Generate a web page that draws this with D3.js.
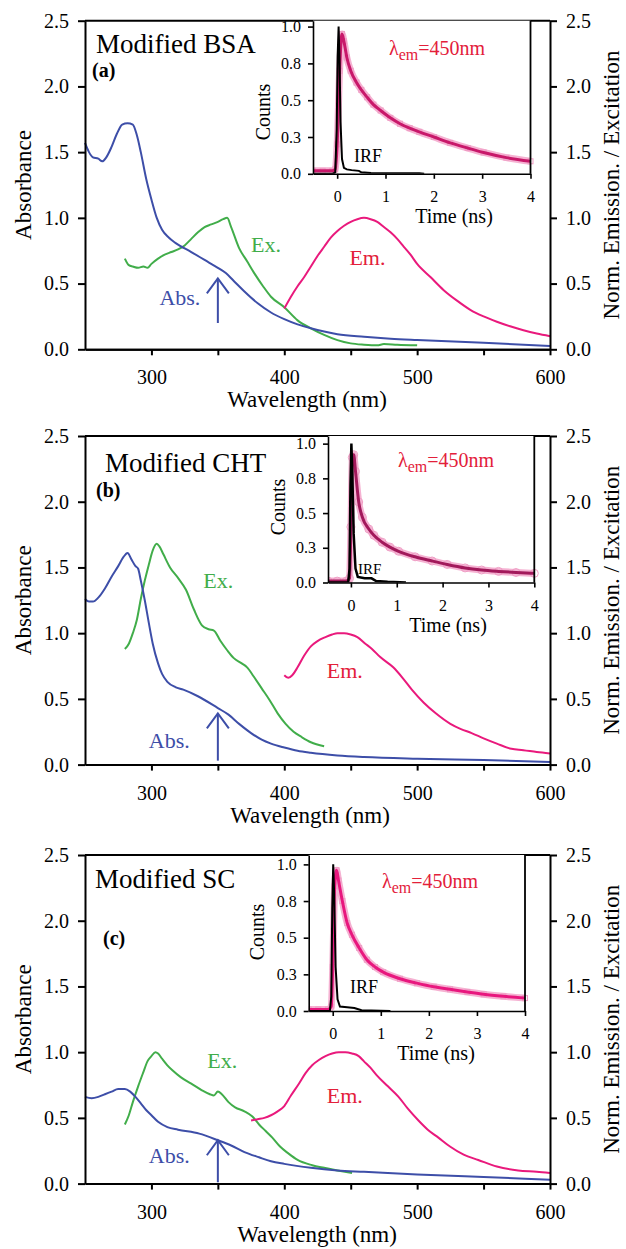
<!DOCTYPE html>
<html>
<head>
<meta charset="utf-8">
<script src="https://cdn.jsdelivr.net/npm/d3@7"></script>
<style>
  body { margin: 0; background: #fff; }
  svg text { font-family: "Liberation Serif", "Times New Roman", serif; }
</style>
</head>
<body>
<svg id="chart" width="626" height="1249"></svg>
<script>
// ---- data: [wavelength nm, value] ----
const absA = [[250,1.57],[253,1.50],[256,1.46],[260,1.45],[263,1.43],[266,1.46],[270,1.54],[274,1.64],[278,1.71],[282,1.72],[286,1.71],[289,1.63],[292,1.50],[296,1.30],[300,1.14],[304,1.00],[308,0.91],[313,0.85],[318,0.81],[330,0.74],[340,0.68],[350,0.62],[356,0.58],[362,0.52],[370,0.44],[380,0.35],[390,0.28],[400,0.23],[410,0.19],[420,0.16],[430,0.135],[440,0.115],[460,0.095],[480,0.08],[500,0.07],[550,0.05],[600,0.025]];
const exA = [[280,0.69],[283,0.64],[286,0.63],[290,0.62],[294,0.63],[297,0.62],[300,0.65],[305,0.69],[310,0.72],[315,0.74],[320,0.76],[325,0.79],[330,0.84],[335,0.89],[340,0.93],[345,0.95],[350,0.97],[354,0.99],[357,1.0],[360,0.93],[366,0.77],[372,0.67],[378,0.57],[384,0.48],[390,0.40],[400,0.32],[410,0.22],[420,0.16],[430,0.11],[440,0.07],[450,0.045],[460,0.035],[470,0.03],[475,0.04],[485,0.035],[500,0.03]];
const emA = [[400,0.31],[405,0.40],[410,0.48],[415,0.55],[420,0.63],[425,0.71],[430,0.78],[435,0.85],[440,0.90],[445,0.94],[450,0.97],[455,0.99],[460,1.0],[465,0.99],[470,0.97],[475,0.93],[480,0.89],[485,0.84],[490,0.78],[495,0.72],[500,0.65],[510,0.55],[520,0.45],[530,0.37],[540,0.30],[550,0.25],[560,0.21],[570,0.175],[580,0.145],[590,0.12],[600,0.10]];

const absB = [[250,1.26],[253,1.24],[256,1.24],[260,1.27],[265,1.34],[270,1.43],[275,1.51],[279,1.58],[282,1.61],[285,1.56],[288,1.51],[290,1.49],[292,1.40],[295,1.25],[298,1.08],[301,0.92],[305,0.77],[308,0.69],[312,0.63],[318,0.59],[324,0.57],[335,0.52],[350,0.43],[358,0.38],[366,0.31],[375,0.24],[383,0.19],[390,0.16],[400,0.13],[410,0.105],[420,0.09],[440,0.07],[460,0.058],[500,0.045],[550,0.035],[600,0.02]];
const exB = [[280,0.88],[283,0.92],[286,1.0],[289,1.1],[292,1.26],[295,1.40],[298,1.52],[301,1.63],[304,1.68],[306,1.66],[309,1.60],[314,1.50],[320,1.42],[326,1.33],[332,1.18],[338,1.06],[343,1.03],[347,1.02],[352,0.94],[357,0.87],[362,0.81],[368,0.77],[372,0.74],[377,0.67],[383,0.58],[389,0.49],[395,0.39],[401,0.31],[407,0.25],[413,0.21],[420,0.17],[430,0.14]];
const emB = [[400,0.68],[403,0.66],[406,0.68],[410,0.74],[415,0.83],[420,0.90],[425,0.94],[431,0.97],[436,0.99],[440,1.0],[445,1.0],[450,0.99],[455,0.97],[461,0.92],[466,0.88],[472,0.82],[482,0.74],[489,0.66],[496,0.57],[505,0.47],[514,0.39],[525,0.31],[533,0.27],[541,0.24],[550,0.20],[560,0.16],[571,0.12],[580,0.11],[590,0.095],[600,0.085]];

const absC = [[250,0.66],[255,0.65],[260,0.66],[265,0.68],[270,0.70],[275,0.72],[280,0.72],[284,0.70],[288,0.66],[292,0.61],[296,0.56],[300,0.52],[305,0.47],[312,0.43],[320,0.41],[336,0.38],[350,0.33],[360,0.29],[370,0.24],[381,0.20],[390,0.17],[400,0.15],[420,0.12],[440,0.10],[460,0.09],[500,0.07],[550,0.05],[600,0.03]];
const exC = [[280,0.45],[283,0.52],[286,0.62],[290,0.74],[294,0.85],[297,0.93],[300,0.97],[303,1.0],[305,0.99],[308,0.95],[312,0.90],[316,0.86],[322,0.81],[330,0.76],[338,0.71],[344,0.68],[347,0.67],[350,0.70],[353,0.68],[358,0.62],[363,0.58],[370,0.55],[376,0.51],[381,0.45],[386,0.40],[391,0.35],[397,0.28],[403,0.23],[410,0.18],[421,0.14],[430,0.12],[440,0.10],[451,0.08]];
const emC = [[375,0.48],[380,0.49],[385,0.50],[390,0.52],[395,0.55],[400,0.59],[405,0.67],[411,0.76],[416,0.84],[421,0.90],[426,0.94],[431,0.97],[436,0.99],[441,1.0],[446,1.0],[451,0.99],[456,0.97],[460,0.93],[465,0.88],[470,0.82],[478,0.74],[486,0.66],[493,0.57],[501,0.48],[508,0.41],[516,0.35],[525,0.28],[535,0.22],[546,0.18],[560,0.13],[576,0.10],[590,0.09],[600,0.08]];

// ---- inset decays: [time ns, counts] ----
const decayA = [[-0.5,0.02],[-0.3,0.02],[-0.1,0.02],[-0.04,0.03],[0.0,0.2],[0.05,0.7],[0.1,0.95],[0.14,0.9],[0.2,0.79],[0.28,0.70],[0.4,0.62],[0.5,0.57],[0.62,0.52],[0.75,0.47],[0.9,0.43],[1.1,0.38],[1.3,0.34],[1.5,0.31],[1.7,0.285],[2.0,0.25],[2.34,0.21],[2.7,0.175],[3.03,0.145],[3.5,0.11],[4.0,0.085]];
const irfA = [[-0.5,0],[-0.1,0],[-0.04,0.01],[-0.01,0.3],[0.01,0.8],[0.03,1.0],[0.05,0.75],[0.07,0.35],[0.1,0.1],[0.14,0.04],[0.2,0.03],[0.3,0.025],[0.45,0.02],[0.5,0.01],[0.7,0.005],[1.7,0.004],[1.8,0]];
const decayB = [[-0.5,0.01],[-0.3,0.01],[-0.1,0.01],[-0.03,0.03],[0.0,0.4],[0.03,0.9],[0.06,0.92],[0.1,0.8],[0.17,0.58],[0.25,0.47],[0.39,0.385],[0.5,0.34],[0.68,0.29],[0.85,0.255],[1.04,0.225],[1.4,0.185],[1.77,0.155],[2.1,0.13],[2.49,0.105],[2.85,0.09],[3.22,0.08],[3.6,0.072],[4.0,0.066]];
const irfB = [[-0.5,0],[-0.06,0],[-0.03,0.1],[-0.01,0.7],[0.01,1.0],[0.03,0.8],[0.06,0.35],[0.1,0.1],[0.15,0.04],[0.3,0.03],[0.45,0.03],[0.55,0.01],[0.8,0.005],[1.2,0]];
const decayC = [[-0.5,0.01],[-0.3,0.01],[-0.1,0.01],[-0.03,0.03],[0.0,0.3],[0.04,0.85],[0.08,0.96],[0.12,0.89],[0.2,0.75],[0.3,0.6],[0.4,0.52],[0.55,0.43],[0.71,0.35],[0.88,0.3],[1.05,0.265],[1.4,0.22],[1.75,0.19],[2.1,0.165],[2.44,0.148],[2.8,0.13],[3.14,0.114],[3.55,0.1],[4.0,0.088]];
const irfC = [[-0.5,0],[-0.06,0],[-0.03,0.1],[-0.01,0.7],[0.01,1.0],[0.03,0.8],[0.06,0.3],[0.1,0.08],[0.15,0.03],[0.3,0.025],[0.45,0.02],[0.6,0.005],[1.2,0]];

// ---- ticks / labels ----
const wlTicks = [300, 400, 500, 600];
const wlMinor = [350, 450, 550];
const yTicks = [0, 0.5, 1.0, 1.5, 2.0, 2.5];
const insetXTicks = [0, 1, 2, 3, 4];
const insetYTicks = [0, 0.25, 0.5, 0.75, 1.0];
const insetYLabels = ["0.0", "0.3", "0.5", "0.8", "1.0"];
const titles = ["Modified BSA", "Modified CHT", "Modified SC"];
const tags = ["(a)", "(b)", "(c)"];
// label anchors in data coords [nm, value]
const exLabelPos = [[375, 0.74], [339, 1.34], [342, 0.88]];
const emLabelPos = [[449, 0.64], [432, 0.66], [432, 0.61]];
const absLabelPos = [[306, 0.34], [298, 0.125], [298, 0.155]];
// arrow [nm, from, to]
const arrows = [[350, 0.2, 0.54], [350, 0.03, 0.39], [350, 0.01, 0.33]];

const BLUE = "#3d4ea8", GREEN = "#41ad4a", MAGENTA = "#e9197c", RED = "#e3203a";
const fitColors = ["#c8186a", "#a2195b", "#e8177e"];

const panels = [
  { abs: absA, ex: exA, em: emA, decay: decayA, irf: irfA, marker: "square" },
  { abs: absB, ex: exB, em: emB, decay: decayB, irf: irfB, marker: "circle" },
  { abs: absC, ex: exC, em: emC, decay: decayC, irf: irfC, marker: "square" }
];

// layout of each panel (pixels)
const layout = [
  { top: 20.7, inL: 313, inR: 530.5, inB: 173.8, inMax: 1.04, titleX: 96, titleDy: 32, tagX: 92, tagDy: 56,
    lamX: 389, lamY: 55, irfX: 354, irfY: 162, irfSize: 18, cntX: 270, cntY: 112, timeX: 454, wlX: 307, rightX: 619 },
  { top: 436, inL: 328, inR: 534.3, inB: 582.5, inMax: 1.055, titleX: 105, titleDy: 36, tagX: 96, tagDy: 61,
    lamX: 398, lamY: 467, irfX: 358, irfY: 574, irfSize: 15, cntX: 285, cntY: 507, timeX: 448, wlX: 310, rightX: 619 },
  { top: 855, inL: 308.7, inR: 525, inB: 1011, inMax: 1.064, titleX: 95, titleDy: 33, tagX: 103, tagDy: 90,
    lamX: 382, lamY: 888, irfX: 350, irfY: 993, irfSize: 18, cntX: 264, cntY: 932, timeX: 436, wlX: 317, rightX: 619 }
];

const X0 = 85, X1 = 550, PH = 328.6;
const svg = d3.select("#chart");

function styleAxis(sel, size, width) {
  sel.attr("font-size", size).attr("font-family", null);
  sel.selectAll("path, line").attr("stroke", "#000").attr("stroke-width", width);
  sel.selectAll("text").attr("fill", "#000");
}

function drawPanel(p, L, i) {
  const top = L.top, bottom = top + PH;
  const g = svg.append("g");

  const x = d3.scaleLinear().domain([250, 600]).range([X0, X1]);
  const y = d3.scaleLinear().domain([0, 2.5]).range([bottom, top]);
  const line = d3.line().x(d => x(d[0])).y(d => y(d[1])).curve(d3.curveMonotoneX);

  g.append("path").datum(p.ex).attr("d", line).attr("fill", "none").attr("stroke", GREEN).attr("stroke-width", 2);
  g.append("path").datum(p.abs).attr("d", line).attr("fill", "none").attr("stroke", BLUE).attr("stroke-width", 2);
  g.append("path").datum(p.em).attr("d", line).attr("fill", "none").attr("stroke", MAGENTA).attr("stroke-width", 2);

  // arrow
  const ar = arrows[i];
  const axp = x(ar[0]), ay0 = y(ar[1]), ay1 = y(ar[2]);
  g.append("line").attr("x1", axp).attr("x2", axp).attr("y1", ay0).attr("y2", ay1)
    .attr("stroke", BLUE).attr("stroke-width", 2);
  g.append("path").attr("d", `M${axp - 11},${ay1 + 15}L${axp},${ay1}L${axp + 11},${ay1 + 15}`)
    .attr("fill", "none").attr("stroke", BLUE).attr("stroke-width", 2);

  // curve labels
  g.append("text").attr("x", x(exLabelPos[i][0])).attr("y", y(exLabelPos[i][1]))
    .attr("font-size", 22).attr("fill", GREEN).text("Ex.");
  g.append("text").attr("x", x(emLabelPos[i][0])).attr("y", y(emLabelPos[i][1]))
    .attr("font-size", 22).attr("fill", RED).text("Em.");
  g.append("text").attr("x", x(absLabelPos[i][0])).attr("y", y(absLabelPos[i][1]))
    .attr("font-size", 22).attr("fill", BLUE).text("Abs.");

  g.append("text").attr("x", L.titleX).attr("y", top + L.titleDy)
    .attr("font-size", 27).attr("fill", "#000").text(titles[i]);
  g.append("text").attr("x", L.tagX).attr("y", top + L.tagDy)
    .attr("font-size", 20).attr("font-weight", "bold").attr("fill", "#000").text(tags[i]);

  // main axes
  g.append("g").attr("transform", `translate(0,${bottom})`)
    .call(d3.axisBottom(x).tickValues(wlMinor).tickSize(6).tickSizeOuter(0).tickFormat(""))
    .call(s => styleAxis(s, 20, 2));
  g.append("g").attr("transform", `translate(0,${bottom})`)
    .call(d3.axisBottom(x).tickValues(wlTicks).tickSize(6).tickSizeOuter(0).tickPadding(15).tickFormat(d3.format("d")))
    .call(s => styleAxis(s, 20, 2));
  g.append("g").attr("transform", `translate(${X0},0)`)
    .call(d3.axisLeft(y).tickValues(yTicks).tickSize(7).tickSizeOuter(0).tickPadding(9).tickFormat(d3.format(".1f")))
    .call(s => styleAxis(s, 20, 2));
  g.append("g").attr("transform", `translate(${X1},0)`)
    .call(d3.axisRight(y).tickValues(yTicks).tickSize(7).tickSizeOuter(0).tickPadding(9).tickFormat(d3.format(".1f")))
    .call(s => styleAxis(s, 20, 2));
  g.append("line").attr("x1", X0).attr("x2", X1).attr("y1", top).attr("y2", top)
    .attr("stroke", "#000").attr("stroke-width", 2);

  // axis titles
  g.append("text").attr("x", L.wlX).attr("y", bottom + 58).attr("text-anchor", "middle")
    .attr("font-size", 23).attr("fill", "#000").text("Wavelength (nm)");
  g.append("text").attr("transform", `translate(31,${(top + bottom) / 2}) rotate(-90)`)
    .attr("text-anchor", "middle").attr("font-size", 23).attr("fill", "#000").text("Absorbance");
  g.append("text").attr("transform", `translate(${L.rightX},${(top + bottom) / 2}) rotate(-90)`)
    .attr("text-anchor", "middle").attr("font-size", 23).attr("fill", "#000").text("Norm. Emission. / Excitation");

  // ---- inset ----
  const ix = d3.scaleLinear().domain([-0.5, 4]).range([L.inL, L.inR]);
  const iy = d3.scaleLinear().domain([0, L.inMax]).range([L.inB, top]);
  const ig = g.append("g");
  ig.append("rect").attr("x", L.inL).attr("y", top).attr("width", L.inR - L.inL).attr("height", L.inB - top)
    .attr("fill", "#fff");
  const clipId = "inclip" + i;
  ig.append("clipPath").attr("id", clipId).append("rect")
    .attr("x", L.inL).attr("y", top).attr("width", L.inR - L.inL + 6).attr("height", L.inB - top);
  const cg = ig.append("g").attr("clip-path", `url(#${clipId})`);
  const iline = d3.line().x(d => ix(d[0])).y(d => iy(d[1])).curve(d3.curveMonotoneX);

  cg.append("path").datum(p.decay).attr("d", iline).attr("fill", "none")
    .attr("stroke", "#f5b2d2").attr("stroke-width", 7).attr("stroke-linejoin", "round");
  if (p.marker === "circle") {
    cg.selectAll("circle.m").data(p.decay).join("circle").attr("class", "m")
      .attr("cx", d => ix(d[0])).attr("cy", d => iy(d[1])).attr("r", 4)
      .attr("fill", "none").attr("stroke", "#ef9cc4").attr("stroke-width", 1);
  } else {
    cg.selectAll("rect.m").data(p.decay).join("rect").attr("class", "m")
      .attr("x", d => ix(d[0]) - 2.5).attr("y", d => iy(d[1]) - 2.5).attr("width", 5).attr("height", 5)
      .attr("fill", "none").attr("stroke", "#ef9cc4").attr("stroke-width", 1);
  }
  cg.append("path").datum(p.decay).attr("d", iline).attr("fill", "none")
    .attr("stroke", fitColors[i]).attr("stroke-width", 3);
  cg.append("path").datum(p.irf).attr("d", d3.line().x(d => ix(d[0])).y(d => iy(d[1])))
    .attr("fill", "none").attr("stroke", "#000").attr("stroke-width", i === 1 ? 2.5 : 2);

  ig.append("g").attr("transform", `translate(0,${L.inB})`)
    .call(d3.axisBottom(ix).tickValues(insetXTicks).tickSize(5).tickSizeOuter(0).tickPadding(12).tickFormat(d3.format("d")))
    .call(s => styleAxis(s, 16, 1.6));
  ig.append("g").attr("transform", `translate(${L.inL},0)`)
    .call(d3.axisLeft(iy).tickValues(insetYTicks).tickSize(5).tickSizeOuter(0).tickPadding(7)
      .tickFormat((d, k) => insetYLabels[k]))
    .call(s => styleAxis(s, 16, 1.6));
  ig.append("line").attr("x1", L.inR).attr("x2", L.inR).attr("y1", top).attr("y2", L.inB)
    .attr("stroke", "#000").attr("stroke-width", 1.8);

  ig.append("text").attr("x", L.timeX).attr("y", L.inB + 49).attr("text-anchor", "middle")
    .attr("font-size", 20).attr("fill", "#000").text("Time (ns)");
  ig.append("text").attr("transform", `translate(${L.cntX},${L.cntY}) rotate(-90)`)
    .attr("text-anchor", "middle").attr("font-size", 20).attr("fill", "#000").text("Counts");
  ig.append("text").attr("x", L.irfX).attr("y", L.irfY).attr("font-size", L.irfSize)
    .attr("fill", "#000").text("IRF");
  const lam = ig.append("text").attr("x", L.lamX).attr("y", L.lamY).attr("font-size", 20).attr("fill", RED);
  lam.append("tspan").text("λ");
  lam.append("tspan").attr("font-size", 16).attr("dy", 5).text("em");
  lam.append("tspan").attr("dy", -5).attr("font-size", 20).text("=450nm");
}

panels.forEach((p, i) => drawPanel(p, layout[i], i));
</script>
</body>
</html>
